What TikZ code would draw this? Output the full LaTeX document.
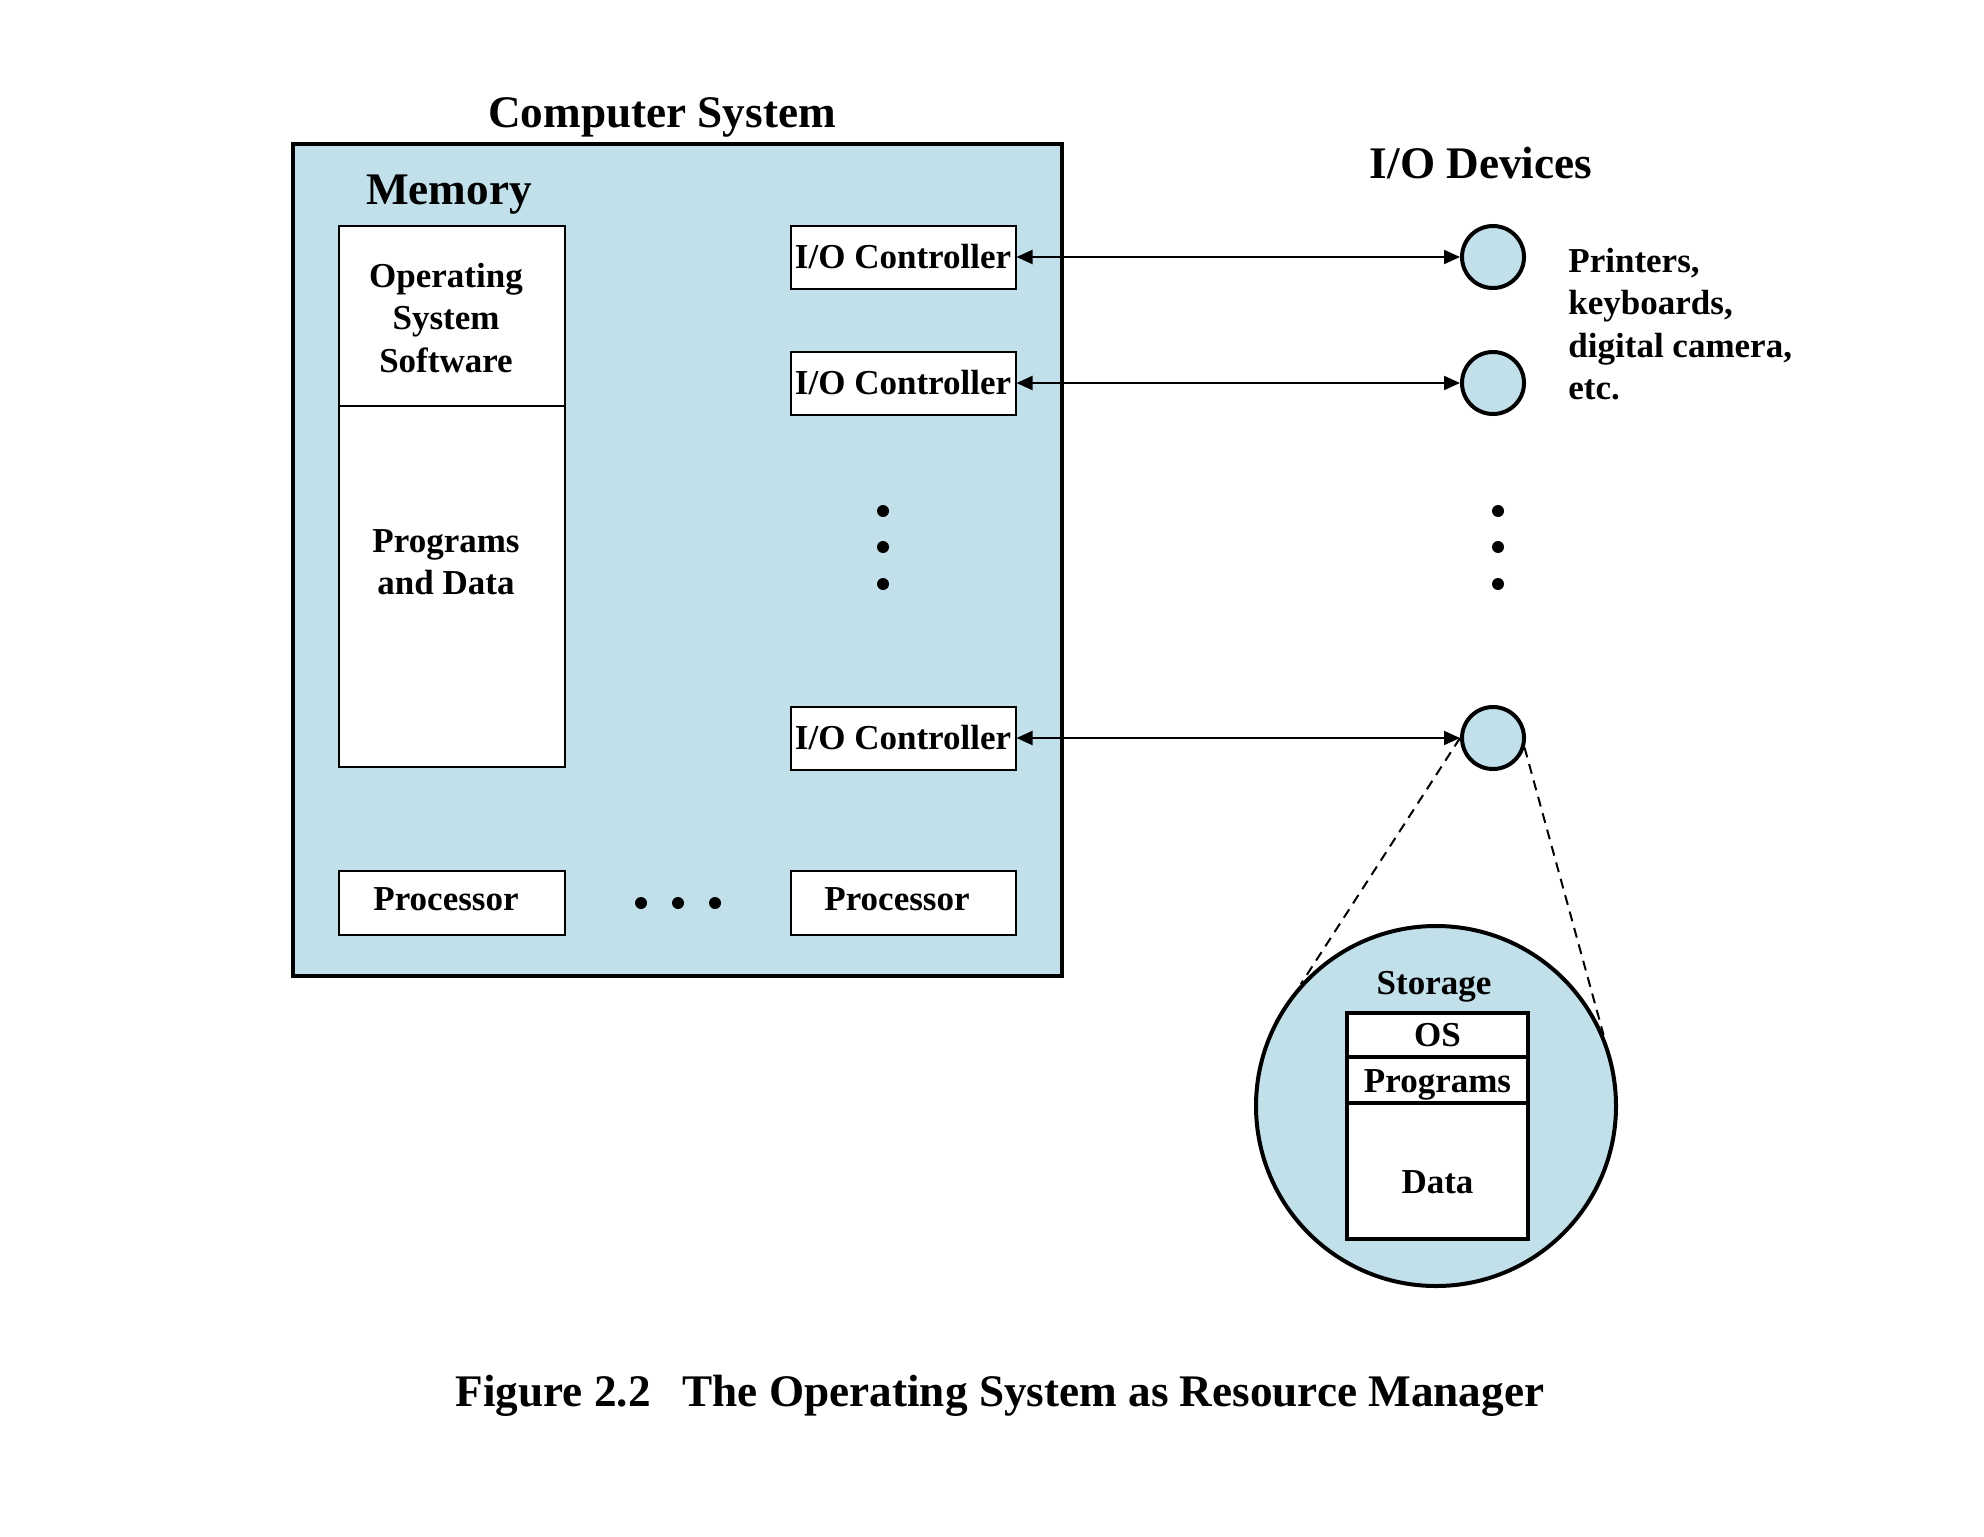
\documentclass[tikz,border=0pt]{standalone}
\usepackage{fontspec}
\setmainfont{Liberation Serif}
\usetikzlibrary{arrows.meta}
\definecolor{sysblue}{RGB}{194,224,234}
\begin{document}
\begin{tikzpicture}[x=0.5pt,y=-0.5pt,
  boxtxt/.style={font=\fontsize{17.5}{21.2}\selectfont\bfseries, align=center},
  bigtxt/.style={font=\fontsize{22.6}{27}\selectfont\bfseries},
  wbox/.style={draw, fill=white, line width=1pt, inner sep=0pt, boxtxt},
  dev/.style={circle, draw, fill=sysblue, line width=2pt, minimum size=31pt, inner sep=0pt},
  sbox/.style={draw, fill=white, line width=2pt, inner sep=0pt, minimum width=90.5pt, boxtxt},
  conn/.style={line width=1pt, {Triangle[length=8pt,width=7pt]}-{Triangle[length=8pt,width=7pt]}},
  zoomline/.style={line width=1pt, dash pattern=on 5pt off 3.5pt},
  dotm/.style={circle, fill=black, inner sep=0pt, minimum size=6pt}
]
\useasboundingbox (0,0) rectangle (1984,1536);

% Computer system
\node[bigtxt] (cstitle) at (662,117) {Computer System};
\node[draw, fill=sysblue, line width=2pt, minimum width=384.5pt, minimum height=416pt, inner sep=0pt] (sys) at (677.5,560) {};
\node[bigtxt] (memtitle) at (449,195) {Memory};
\node[wbox, minimum width=113pt, minimum height=90pt] (memos) at (452,316) {};
\node[boxtxt] (memostxt) at (446,318) {Operating\\System\\Software};
\node[wbox, minimum width=113pt, minimum height=180.5pt] (memprog) at (452,586.5) {};
\node[boxtxt] (memprogtxt) at (446,562) {Programs\\and Data};

\node[wbox, minimum width=112.5pt, minimum height=31.5pt] (c1) at (903,257) {I/O Controller};
\node[wbox, minimum width=112.5pt, minimum height=31.5pt] (c2) at (903,383) {I/O Controller};
\node[wbox, minimum width=112.5pt, minimum height=31.5pt] (c3) at (903,738) {I/O Controller};

\node[wbox, minimum width=113pt, minimum height=32pt] (p1) at (452,903) {};
\node[boxtxt] (p1txt) at (446,899) {Processor};
\node[wbox, minimum width=112.5pt, minimum height=32pt] (p2) at (903,903) {};
\node[boxtxt] (p2txt) at (897,899) {Processor};

\node[dotm] (vd1) at (883,511) {};
\node[dotm] (vd2) at (883,547) {};
\node[dotm] (vd3) at (883,584) {};
\node[dotm] (hd1) at (641,903) {};
\node[dotm] (hd2) at (678,903) {};
\node[dotm] (hd3) at (715,903) {};

% I/O devices
\node[bigtxt] (devtitle) at (1481,163) {I/O Devices};
\node[dev] (d1) at (1493,257) {};
\node[dev] (d2) at (1493,383) {};
\node[dev] (d3) at (1493,738) {};
\node[boxtxt, align=left, anchor=west, inner sep=0pt] (devlist) at (1568,324) {Printers,\\keyboards,\\digital camera,\\etc.};
\node[dotm] (rd1) at (1498,511) {};
\node[dotm] (rd2) at (1498,547) {};
\node[dotm] (rd3) at (1498,584) {};

\draw[conn] (c1.east) -- (d1.west);
\draw[conn] (c2.east) -- (d2.west);
\draw[conn] (c3.east) -- (d3.west);

% Storage
\node[circle, draw, fill=sysblue, line width=2pt, minimum size=180pt, inner sep=0pt] (stor) at (1436,1106) {};
\draw[zoomline] (d3.west) -- (stor.138);
\draw[zoomline] (d3.-17) -- (stor.23.5);
\node[boxtxt] (stortitle) at (1434,987) {Storage};
\node[sbox, minimum height=22pt] (sos) at (1437.5,1035) {OS};
\node[sbox, minimum height=23pt] (sprog) at (1437.5,1080) {};
\node[boxtxt] (sprogtxt) at (1437.5,1085) {Programs};
\node[sbox, minimum height=68pt] (sdata) at (1437.5,1171) {};
\node[boxtxt] (sdatatxt) at (1437.5,1182) {Data};

% Caption
\node[bigtxt] (caption) at (1000,1396) {Figure 2.2\hspace{16pt}The Operating System as Resource Manager};
\end{tikzpicture}
\end{document}
